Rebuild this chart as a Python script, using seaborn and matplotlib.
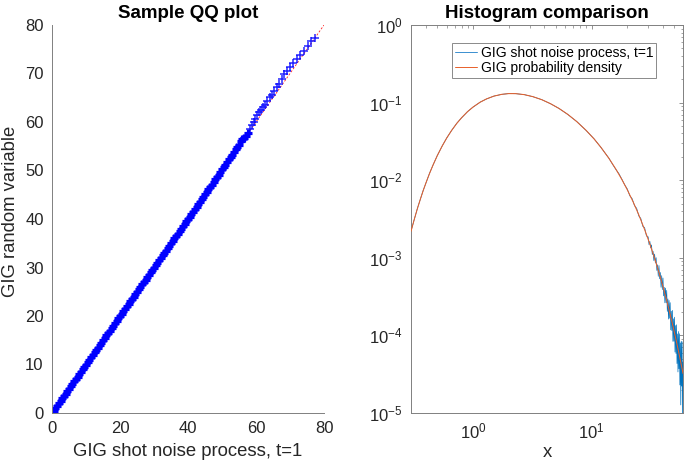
import matplotlib
matplotlib.use("Agg")
import matplotlib.pyplot as plt
import seaborn as sns
import pandas as pd
from matplotlib.ticker import LogLocator, NullFormatter
from matplotlib.lines import Line2D

# ---------------- data: left panel (sample QQ plot) ----------------
qq_x = [0.0, 0.5, 1.0, 1.5, 2.0, 2.5, 3.0, 3.5, 4.0, 4.5, 5.0, 5.5, 6.0, 6.5, 7.0, 7.5,
        8.0, 8.5, 9.0, 9.5, 10.0, 10.5, 11.0, 11.5, 12.0, 12.5, 13.0, 13.5, 14.0, 14.5,
        15.0, 15.5, 16.0, 16.5, 17.0, 17.5, 18.0, 18.5, 19.0, 19.5, 20.0, 20.5, 21.0,
        21.5, 22.0, 22.5, 23.0, 23.5, 24.0, 24.5, 25.0, 25.5, 26.0, 26.5, 27.0, 27.5,
        28.0, 28.5, 29.0, 29.5, 30.0, 30.5, 31.0, 31.5, 32.0, 32.5, 33.0, 33.5, 34.0,
        34.5, 35.0, 35.5, 36.0, 36.5, 37.0, 37.5, 38.0, 38.5, 39.0, 39.5, 40.0, 40.5,
        41.0, 41.5, 42.0, 42.5, 43.0, 43.5, 44.0, 44.5, 45.0, 45.5, 46.0, 46.5, 47.0,
        47.5, 48.0, 48.5, 49.0, 49.5, 50.0, 50.5, 51.0, 51.5, 52.0, 52.5, 53.0, 53.5,
        54.0, 54.5, 55.0, 55.5, 56.0, 56.5, 57.0, 57.5]
qq_y = [0.0, 0.5, 1.0, 1.5, 2.0, 2.5, 3.0, 3.5, 4.0, 4.5, 5.0, 5.5, 6.0, 6.5, 7.0, 7.5,
        8.0, 8.5, 9.0, 9.5, 10.0, 10.5, 11.0, 11.5, 12.0, 12.5, 13.0, 13.5, 14.0, 14.5,
        15.0, 15.5, 16.0, 16.5, 17.0, 17.5, 18.0, 18.5, 19.0, 19.5, 20.0, 20.5, 21.0,
        21.5, 22.0, 22.5, 23.0, 23.5, 24.0, 24.5, 25.0, 25.5, 26.0, 26.5, 27.0, 27.5,
        28.0, 28.5, 29.0, 29.5, 30.0, 30.5, 31.0, 31.5, 32.0, 32.5, 33.0, 33.5, 34.0,
        34.5, 35.0, 35.5, 36.0, 36.5, 37.0, 37.5, 38.0, 38.5, 39.0, 39.5, 40.0, 40.5,
        41.0, 41.5, 42.0, 42.5, 43.0, 43.5, 44.1, 44.6, 45.1, 45.5, 46.2, 46.7, 47.1,
        47.6, 48.2, 48.7, 49.1, 49.7, 50.3, 50.8, 51.2, 51.8, 52.4, 52.8, 53.2, 53.9,
        54.5, 54.8, 55.3, 56.0, 56.5, 56.8, 57.2, 57.8]
# sparse upper tail of the QQ plot
qq_tail_x = [58.2, 58.8, 59.3, 59.7, 60.2, 60.8, 61.4, 62.0, 62.7, 63.3, 64.0, 64.6, 65.3,
             66.1, 66.8, 67.5, 68.3, 69.1, 70.0, 70.9, 72.0, 73.0, 74.2, 75.4, 76.3, 77.3]
qq_tail_y = [58.6, 59.3, 59.9, 60.6, 61.4, 62.0, 62.5, 63.0, 63.6, 64.4, 65.1, 65.6, 66.4,
             67.2, 67.9, 68.8, 69.8, 70.6, 71.3, 72.1, 73.0, 73.9, 74.6, 75.6, 76.6, 77.3]
ref_x = [0, 80]
ref_y = [0, 80]

# ---------------- data: right panel (histogram comparison) ----------------
pdf_x = [0.30, 0.32, 0.34, 0.36, 0.38, 0.40, 0.43, 0.46, 0.50, 0.55, 0.60, 0.66, 0.73,
         0.80, 0.90, 1.0, 1.15, 1.3, 1.5, 1.75, 2.0, 2.3, 2.7, 3.2, 3.8, 4.5, 5.3, 6.3,
         7.5, 9.0, 10.5, 12.0, 14.0, 16.0, 18.0, 20.0, 22.5, 25.0, 28.0, 31.0, 34.0,
         37.0, 40.0, 43.0, 46.0, 49.0, 52.0, 55.0, 58.0, 59.0]
pdf_y = [2.19e-3, 3.15e-3, 4.32e-3, 5.72e-3, 7.33e-3, 9.14e-3, 1.222e-2, 1.568e-2,
         2.076e-2, 2.766e-2, 3.49e-2, 4.38e-2, 5.40e-2, 6.37e-2, 7.65e-2, 8.76e-2,
         0.1013, 0.1116, 0.1212, 0.1279, 0.1306, 0.1304, 0.1267, 0.1193, 0.1090,
         0.0969, 0.0842, 0.0705, 0.0569, 0.0438, 0.0340, 0.02646, 0.01912, 0.01393,
         0.01021, 7.53e-3, 5.18e-3, 3.58e-3, 2.31e-3, 1.506e-3, 9.84e-4, 6.46e-4,
         4.26e-4, 2.82e-4, 1.867e-4, 1.241e-4, 8.27e-5, 5.51e-5, 3.69e-5, 3.23e-5]

hist_x = [0.30, 0.32, 0.34, 0.36, 0.38, 0.40, 0.43, 0.46, 0.50, 0.55, 0.60, 0.66, 0.73,
          0.80, 0.90, 1.0, 1.15, 1.3, 1.5, 1.75, 2.0, 2.3, 2.7, 3.2, 3.8, 4.5, 5.3, 6.3,
          7.5, 9.0, 10.5, 12.0, 14.0, 15.0, 16.0, 17.0, 18.0, 19.0,
          20.0, 21.0, 22.0, 23.0, 24.0, 25.0, 26.0, 27.0, 28.0, 29.0, 30.0,
          30.5, 31.0, 31.5, 32.0, 32.5, 33.0, 33.5, 34.0, 34.5, 35.0, 35.5, 36.0, 36.5,
          37.0, 37.5, 38.0, 38.5, 39.0, 39.5, 40.0, 40.5, 41.0, 41.5, 42.0, 42.5, 43.0,
          43.5, 44.0, 44.5, 45.0, 45.5, 46.0, 46.5, 47.0, 47.5, 48.0, 48.5, 49.0, 49.5,
          50.0, 50.5, 51.0, 51.5, 52.0, 52.5, 53.0, 53.5, 54.0, 54.5, 55.0, 55.5, 56.0,
          56.5, 57.0, 57.5, 58.0, 58.5, 59.0]
hist_y = [2.21e-3, 3.13e-3, 4.36e-3, 5.69e-3, 7.38e-3, 9.10e-3, 1.228e-2, 1.563e-2,
          2.082e-2, 2.760e-2, 3.50e-2, 4.37e-2, 5.42e-2, 6.35e-2, 7.66e-2, 8.74e-2,
          0.1015, 0.1114, 0.1213, 0.1277, 0.1307, 0.1302, 0.1268, 0.1191, 0.1092,
          0.0967, 0.0843, 0.0703, 0.0570, 0.0437, 0.0341, 0.02640, 0.01920, 0.01610,
          0.01380, 0.01215, 0.01030, 8.75e-3,
          7.71e-3, 6.30e-3, 5.77e-3, 4.70e-3, 4.34e-3, 3.46e-3, 3.22e-3, 2.55e-3,
          2.45e-3, 1.914e-3, 1.862e-3,
          1.475e-3, 1.632e-3, 1.340e-3, 1.466e-3, 1.098e-3, 1.215e-3, 9.20e-4, 1.117e-3,
          8.56e-4, 1.005e-3, 6.87e-4, 8.15e-4, 5.77e-4, 7.95e-4, 5.37e-4, 6.46e-4,
          4.17e-4, 5.89e-4, 3.89e-4, 5.49e-4, 3.23e-4, 4.16e-4, 2.63e-4, 4.07e-4,
          2.63e-4, 3.80e-4, 2.04e-4, 2.95e-4, 1.623e-4, 2.82e-4, 1.663e-4, 2.64e-4,
          1.179e-4, 2.05e-4, 1.154e-4, 2.10e-4, 8.38e-5, 1.636e-4, 8.40e-5, 1.717e-4,
          6.10e-5, 1.337e-4, 5.84e-5, 1.371e-4, 4.34e-5, 1.044e-4, 3.38e-5, 1.122e-4,
          3.72e-5, 1.051e-4, 2.30e-5, 8.00e-5, 1.27e-5, 8.41e-5, 2.22e-5, 8.25e-5,
          8.66e-6, 4.55e-5]

series_labels = ["GIG shot noise process, t=1", "GIG probability density"]

# ---------------- style ----------------
sns.set_theme(style="white")
plt.rcParams["font.family"] = ["Liberation Sans", "DejaVu Sans"]
plt.rcParams["mathtext.fontset"] = "custom"
plt.rcParams["mathtext.rm"] = "Liberation Sans"
plt.rcParams["mathtext.it"] = "Liberation Sans"
plt.rcParams["axes.unicode_minus"] = False

TICK_C = "#262626"
SPINE_C = "#808080"
BLUE_M = "#0000ff"
HIST_C = "#0072bd"
PDF_C = "#e8602a"

W, H = 685, 467
fig = plt.figure(figsize=(W / 100, H / 100), dpi=100)
ax1 = fig.add_axes([52 / W, 54 / H, 272 / W, 388 / H])
ax2 = fig.add_axes([411 / W, 54 / H, 272 / W, 388 / H])

# ---------------- left panel ----------------
sns.lineplot(x=ref_x, y=ref_y, ax=ax1, color="#ff2020", lw=0.6,
             linestyle=(0, (2.5, 2)), zorder=1, estimator=None, sort=False)
sns.scatterplot(x=qq_x, y=qq_y, marker="+", s=28, color=BLUE_M,
                linewidth=2.3, ax=ax1, zorder=2)
sns.scatterplot(x=qq_tail_x, y=qq_tail_y, marker="+", s=36, color=BLUE_M,
                linewidth=1.1, alpha=0.85, ax=ax1, zorder=2)
ax1.set_xlim(0, 80)
ax1.set_ylim(0, 80)
ax1.set_xticks([0, 20, 40, 60, 80])
ax1.set_yticks([0, 10, 20, 30, 40, 50, 60, 70, 80])
ax1.set_title("Sample QQ plot", fontsize=13.5, fontweight="bold", pad=5, color="black")
ax1.set_xlabel("GIG shot noise process, t=1", fontsize=13.3, color=TICK_C, labelpad=5)
ax1.set_ylabel("GIG random variable", fontsize=13.3, color=TICK_C)
ax1.yaxis.set_label_coords(-0.122, 0.52)
for side in ["top", "right"]:
    ax1.spines[side].set_visible(False)
for side in ["left", "bottom"]:
    ax1.spines[side].set_color(SPINE_C)
    ax1.spines[side].set_linewidth(0.7)
ax1.tick_params(direction="in", length=3, width=0.6, color=SPINE_C,
                labelsize=12, labelcolor=TICK_C, pad=6)

# ---------------- right panel ----------------
ax2.set_xscale("log")
ax2.set_yscale("log")
sns.lineplot(x=hist_x, y=hist_y, ax=ax2, color=HIST_C, lw=0.5, estimator=None,
             sort=False, zorder=2)
sns.lineplot(x=pdf_x, y=pdf_y, ax=ax2, color=PDF_C, lw=0.75, estimator=None,
             sort=False, zorder=3)
ax2.set_xlim(0.3, 59)
ax2.set_ylim(1e-5, 1)
ax2.xaxis.set_major_locator(LogLocator(base=10, numticks=10))
ax2.xaxis.set_minor_locator(LogLocator(base=10, subs=range(2, 10), numticks=20))
ax2.xaxis.set_minor_formatter(NullFormatter())
ax2.yaxis.set_major_locator(LogLocator(base=10, numticks=10))
ax2.yaxis.set_minor_locator(LogLocator(base=10, subs=range(2, 10), numticks=20))
ax2.yaxis.set_minor_formatter(NullFormatter())
ax2.set_title("Histogram comparison", fontsize=13.5, fontweight="bold", pad=5,
              color="black")
ax2.set_xlabel("x", fontsize=13.3, color=TICK_C, labelpad=2)
for side in ["top", "right", "left", "bottom"]:
    ax2.spines[side].set_color(SPINE_C)
    ax2.spines[side].set_linewidth(0.7)
ax2.tick_params(which="both", direction="in", top=True, right=True, color=SPINE_C,
                labelsize=12, labelcolor=TICK_C, pad=6)
ax2.tick_params(which="major", length=3, width=0.6)
ax2.tick_params(which="minor", length=1.8, width=0.5)

handles = [Line2D([], [], color="#3a8fd0", lw=0.7), Line2D([], [], color=PDF_C, lw=0.7)]
leg = ax2.legend(handles, series_labels, loc="upper right",
                 bbox_to_anchor=(0.902, 0.954), fontsize=10, frameon=True,
                 fancybox=False, edgecolor="#8a8a8a", framealpha=1,
                 borderpad=0.2, handlelength=1.6, handletextpad=0.3,
                 labelspacing=0.1, borderaxespad=0)
leg.get_frame().set_linewidth(0.7)
for t in leg.get_texts():
    t.set_color("black")

fig.savefig("out.png", dpi=100)
